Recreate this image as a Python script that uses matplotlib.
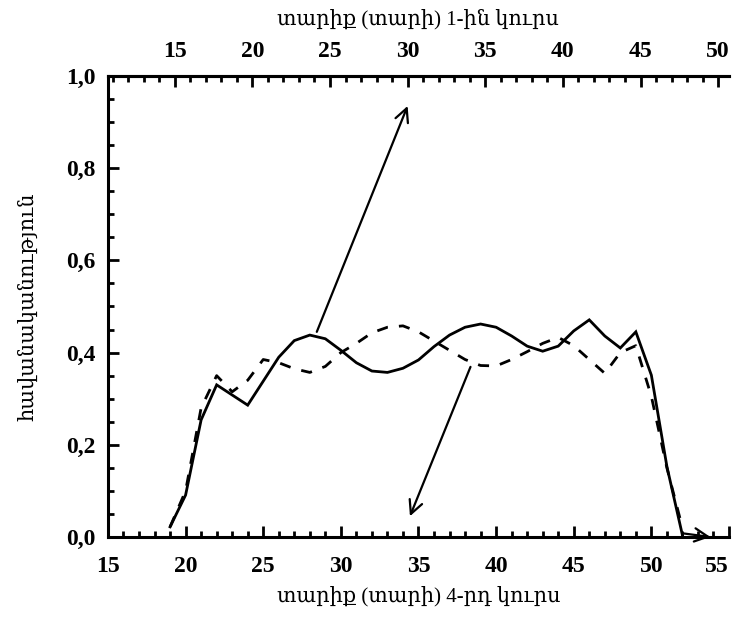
import matplotlib
matplotlib.use("Agg")

import matplotlib.pyplot as plt
from matplotlib.ticker import MultipleLocator, FuncFormatter

# age axis (4th course) and the two distributions
age_solid = [19, 20, 21, 22, 24, 26, 27, 28, 29, 30, 31, 32, 33, 34, 35, 36, 37, 38, 39,
             40, 41, 42, 43, 44, 45, 46, 47, 48, 49, 50, 51, 52]
freq_solid = [0.022, 0.091, 0.254, 0.330, 0.286, 0.390, 0.426, 0.438, 0.430, 0.405, 0.378, 0.360, 0.357, 0.366, 0.384,
              0.413, 0.438, 0.455, 0.462, 0.455, 0.436, 0.414, 0.403, 0.414, 0.447, 0.471, 0.436, 0.410, 0.445,
              0.351, 0.153, 0.004]

age_dash = [19, 20, 21, 22, 23, 24, 25, 26, 27, 28, 29, 30, 31, 32, 33, 34, 35, 36, 37, 38, 39,
            40, 41, 42, 43, 44, 45, 46, 47, 48, 49, 50, 51, 52]
freq_dash = [0.022, 0.100, 0.280, 0.350, 0.315, 0.340, 0.385, 0.378, 0.365, 0.357, 0.370, 0.400, 0.420, 0.443,
             0.455, 0.458, 0.445, 0.425, 0.405, 0.385, 0.372, 0.371, 0.385, 0.402, 0.420, 0.433, 0.415, 0.385,
             0.355, 0.400, 0.415, 0.305, 0.150, 0.020]

# arrows: (tail, head)
arrows = [((28.45, 0.445), (34.3, 0.935)),
          ((38.35, 0.369), (34.45, 0.045)),
          ((52.0, 0.008), (53.8, 0.0))]

bottom_label = "տարիք (տարի) 4-րդ կուրս"
top_label = "տարիք (տարի) 1-ին կուրս"
y_label = "հավանականություն"

serif = ["Liberation Serif", "DejaVu Serif"]
plt.rcParams["font.family"] = serif

fig = plt.figure(figsize=(7.38, 6.19), dpi=100)
ax = fig.add_axes([0.1463, 0.1325, 0.8415, 0.7447])

ax.plot(age_solid, freq_solid, color="black", lw=2.0, solid_joinstyle="miter")
ax.plot(age_dash, freq_dash, color="black", lw=2.0, linestyle=(0, (4, 4)))

for (x0, y0), (x1, y1) in arrows:
    ax.annotate("", xy=(x1, y1), xytext=(x0, y0),
                arrowprops=dict(arrowstyle="->", lw=1.6, color="black",
                                mutation_scale=24, shrinkA=0, shrinkB=0))

ax.set_xlim(15, 55)
ax.set_ylim(0, 1.0)
ax.set_xticks(range(15, 56, 5))
ax.xaxis.set_minor_locator(MultipleLocator(1))
ax.yaxis.set_major_locator(MultipleLocator(0.2))
ax.yaxis.set_minor_locator(MultipleLocator(0.05))
ax.yaxis.set_major_formatter(FuncFormatter(lambda v, p: f"{v:.1f}".replace(".", ",")))

ax.spines["right"].set_visible(False)
for s in ["left", "bottom", "top"]:
    ax.spines[s].set_linewidth(2.2)

ax.tick_params(which="major", direction="in", length=8, width=2.0, top=False, right=False,
               labelsize=17, pad=14)
ax.tick_params(which="minor", direction="in", length=4, width=2.0, top=False, right=False)
ax.tick_params(axis="y", pad=9)
for lab in ax.get_xticklabels() + ax.get_yticklabels():
    lab.set_fontweight("bold")
    lab.set_family("Liberation Serif")
# last bottom label sits at the right edge; keep it inside the figure
ax.get_xticklabels()[-1].set_horizontalalignment("right")

ax.set_xlabel(bottom_label, fontsize=15, labelpad=6)
ax.set_ylabel(y_label, fontsize=15, labelpad=20)

# top axis: 1st course age
ax2 = ax.twiny()
ax2.set_xlim(10.7, 50.7)
ax2.set_xticks(range(15, 51, 5))
ax2.xaxis.set_minor_locator(MultipleLocator(1))
ax2.spines["right"].set_visible(False)
ax2.spines["top"].set_linewidth(2.2)
ax2.tick_params(which="major", direction="in", length=8, width=2.0, labelsize=17, pad=10)
ax2.tick_params(which="minor", direction="in", length=4, width=2.0)
for lab in ax2.get_xticklabels():
    lab.set_fontweight("bold")
    lab.set_family("Liberation Serif")
ax2.set_xlabel(top_label, fontsize=15, labelpad=12)

fig.savefig("out.png", dpi=100)
